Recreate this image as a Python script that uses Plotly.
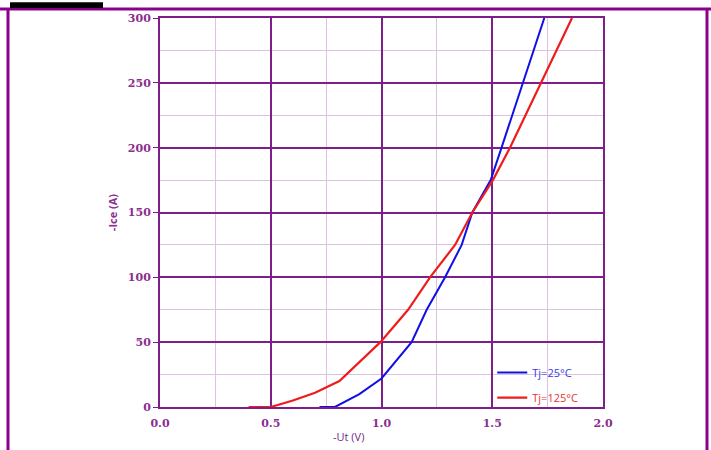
import plotly.graph_objects as go

# Data
u_25 = [0.72, 0.79, 0.90, 1.00, 1.136, 1.204, 1.287, 1.362, 1.41, 1.493, 1.542, 1.735]
i_25 = [0, 0, 10, 22, 50, 75, 100, 125, 150, 175, 200, 300]
u_125 = [0.40, 0.50, 0.60, 0.70, 0.81, 0.995, 1.12, 1.219, 1.332, 1.41, 1.503, 1.58, 1.86]
i_125 = [0, 0, 5, 11, 20, 50, 75, 100, 125, 150, 175, 200, 300]

x_ticks = [0.0, 0.5, 1.0, 1.5, 2.0]
x_labels = ["0.0", "0.5", "1.0", "1.5", "2.0"]
y_ticks = [0, 50, 100, 150, 200, 250, 300]

MAJOR = "#7E1E88"
MINOR = "#DCC2E0"
TEXT = "#8A2E90"
BLUE = "#1010E6"
RED = "#EE1C1C"

fig = go.Figure()
fig.add_trace(go.Scatter(x=u_25, y=i_25, mode="lines", legendgroup="a",
                         name="<span style='color:#3A3AE8'>Tj=25°C</span>",
                         line=dict(color=BLUE, width=2)))
fig.add_trace(go.Scatter(x=u_125, y=i_125, mode="lines", legendgroup="b",
                         name="<span style='color:#EE3030'>Tj=125°C</span>",
                         line=dict(color=RED, width=2.2)))

fig.update_layout(
    width=711, height=450,
    margin=dict(l=160, r=108, t=14, b=43),
    plot_bgcolor="white", paper_bgcolor="white",
    showlegend=True,
    legend=dict(x=0.75, y=-0.013, xanchor="left", yanchor="bottom",
                bgcolor="rgba(0,0,0,0)", borderwidth=0,
                font=dict(family="Open Sans", size=11),
                itemwidth=30, tracegroupgap=6),
    xaxis=dict(range=[0, 2.0], tickvals=x_ticks, ticktext=x_labels,
               tickfont=dict(family="DejaVu Serif", size=11, color=TEXT, weight="bold"),
               showgrid=True, gridcolor=MAJOR, gridwidth=2,
               minor=dict(dtick=0.25, showgrid=True, gridcolor=MINOR, gridwidth=1),
               showline=True, linecolor=MAJOR, linewidth=2, mirror=True,
               zeroline=False, ticks="outside", ticklen=5, tickcolor="rgba(0,0,0,0)"),
    yaxis=dict(range=[0, 300], tickvals=y_ticks,
               tickfont=dict(family="DejaVu Serif", size=11, color=TEXT, weight="bold"),
               showgrid=True, gridcolor=MAJOR, gridwidth=2,
               minor=dict(dtick=25, showgrid=True, gridcolor=MINOR, gridwidth=1),
               showline=True, linecolor=MAJOR, linewidth=2, mirror=True,
               zeroline=False, ticks="outside", ticklen=5, tickcolor=MAJOR,
               title=dict(text="-Ice (A)", standoff=8,
               font=dict(family="Open Sans", size=11, color=TEXT, weight="bold"))),
)

def px_x(p):
    return (p - 160) / 443.0

def px_y(q):
    return (407 - q) / 393.0

fig.add_annotation(text="-Ut (V)", xref="paper", yref="paper",
                   x=px_x(348), y=px_y(437), xanchor="center", yanchor="middle",
                   showarrow=False,
                   font=dict(family="Open Sans", size=11, color="#6E2A7E"))

# white box behind legend (covers grid only)
fig.add_shape(type="rect", xref="paper", yref="paper", layer="between",
              x0=px_x(481), x1=px_x(601), y0=px_y(402), y1=px_y(363),
              fillcolor="white", line=dict(width=0))

# outer frame
fig.add_shape(type="line", xref="paper", yref="paper",
              x0=px_x(0), x1=px_x(711), y0=px_y(5), y1=px_y(5),
              line=dict(color="#8B008B", width=3))
fig.add_shape(type="line", xref="paper", yref="paper",
              x0=px_x(8), x1=px_x(8), y0=px_y(5), y1=px_y(452),
              line=dict(color="#8B008B", width=3))
fig.add_shape(type="line", xref="paper", yref="paper",
              x0=px_x(707), x1=px_x(707), y0=px_y(5), y1=px_y(452),
              line=dict(color="#8B008B", width=3))
fig.add_shape(type="rect", xref="paper", yref="paper",
              x0=px_x(10), x1=px_x(103), y0=px_y(-2), y1=px_y(4),
              fillcolor="black", line=dict(width=0))

fig.write_html("out.html", config={"displayModeBar": False},
               post_script="document.body.style.margin='0';document.body.style.padding='0';")
